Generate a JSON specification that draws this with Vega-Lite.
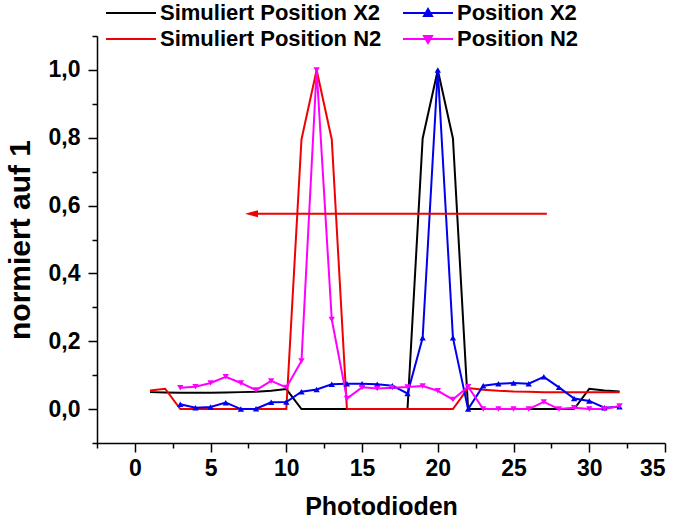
{
  "$schema": "https://vega.github.io/schema/vega-lite/v6.json",
  "width": 568,
  "height": 407,
  "autosize": {"type": "none"},
  "padding": {"left": 97, "top": 36, "right": 15, "bottom": 80},
  "background": "white",
  "config": {
    "view": {"stroke": null},
    "font": "Liberation Sans",
    "axis": {
      "domainColor": "black", "domainWidth": 1.5, "tickColor": "black", "tickWidth": 1.5,
      "labelFont": "Liberation Sans", "labelFontWeight": "bold", "labelColor": "black",
      "titleFont": "Liberation Sans", "titleFontWeight": "bold", "titleColor": "black",
      "grid": false
    }
  },
  "resolve": {"axis": {"x": "independent", "y": "independent"}},
  "layer": [
    {
      "data": {"name": "main"},
      "mark": {"type": "line", "strokeWidth": 2},
      "encoding": {
        "x": {"field": "x", "type": "quantitative", "scale": {"domain": [-2.5, 35], "nice": false, "zero": false},
          "axis": {"orient": "bottom", "title": "Photodioden", "values": [0,5,10,15,20,25,30,35], "tickSize": 9, "labelFontSize": 23, "labelPadding": 5, "titleFontSize": 25, "titlePadding": 14}},
        "y": {"field": "y", "type": "quantitative", "scale": {"domain": [-0.1, 1.1], "nice": false, "zero": false},
          "axis": {"orient": "left", "title": "normiert auf 1", "values": [0,0.2,0.4,0.6,0.8,1.0], "tickSize": 9, "labelFontSize": 23, "labelPadding": 8,
            "labelExpr": "replace(format(datum.value, '.1f'), '.', ',')", "titleFontSize": 30, "titlePadding": 13}},
        "color": {"field": "series", "type": "nominal",
          "scale": {"domain": ["Simuliert Position X2", "Simuliert Position N2", "Position X2", "Position N2"],
                    "range": ["#000000", "#f00000", "#0000ee", "#ff00ff"]},
          "legend": {
            "orient": "none", "legendX": 4, "legendY": -34, "columns": 2, "columnPadding": 16, "rowPadding": 4, "title": null,
            "symbolSize": 100, "symbolStrokeWidth": 2, "symbolOffset": 19, "labelOffset": 18,
            "labelFont": "Liberation Sans", "labelFontSize": 22, "labelFontWeight": "bold", "labelColor": "black", "labelLimit": 400,
            "encode": {"symbols": {"update": {
              "shape": {"signal": "datum.value == 'Position X2' ? 'M-5,0H5M-0.8,0.6L0,-0.8L0.8,0.6Z' : datum.value == 'Position N2' ? 'M-5,0H5M-0.8,-0.6L0,0.8L0.8,-0.6Z' : 'M-5,0H5'"},
              "fill": {"scale": "color", "field": "value"},
              "stroke": {"scale": "color", "field": "value"},
              "strokeWidth": {"value": 2}
            }}}
          }},
        "detail": {"field": "series"}
      }
    },
    {
      "data": {"name": "main"},
      "transform": [{"filter": "datum.series == 'Position X2' || datum.series == 'Position N2'"}],
      "mark": {"type": "point", "filled": true, "size": 40, "opacity": 1},
      "encoding": {
        "x": {"field": "x", "type": "quantitative", "axis": null},
        "y": {"field": "y", "type": "quantitative", "axis": null},
        "color": {"field": "series", "type": "nominal", "legend": null},
        "shape": {"field": "series", "type": "nominal", "scale": {"domain": ["Position X2", "Position N2"], "range": ["triangle-up", "triangle-down"]}, "legend": null}
      }
    },
    {
      "data": {"values": [{"x": 7.6, "x2": 27.2, "y": 0.576}]},
      "mark": {"type": "rule", "color": "#f00000", "strokeWidth": 2},
      "encoding": {
        "x": {"field": "x", "type": "quantitative", "axis": {"orient": "bottom", "title": null, "values": [-2.5,2.5,7.5,12.5,17.5,22.5,27.5,32.5], "labels": false, "domain": false, "tickSize": 5}},
        "x2": {"field": "x2"},
        "y": {"field": "y", "type": "quantitative", "axis": {"orient": "left", "title": null, "values": [-0.1,0.1,0.3,0.5,0.7,0.9,1.1], "labels": false, "domain": false, "tickSize": 5}}
      }
    },
    {
      "data": {"values": [{"x": 7.27, "y": 0.576}]},
      "mark": {"type": "point", "filled": true, "size": 169, "color": "#f00000", "opacity": 1, "shape": "M0,0L2,-0.55L2,0.55Z", "strokeWidth": 0},
      "encoding": {
        "x": {"field": "x", "type": "quantitative", "axis": null},
        "y": {"field": "y", "type": "quantitative", "axis": null}
      }
    }
  ],
  "datasets": {
    "main": [
      {"series": "Simuliert Position X2", "x": 1, "y": 0.050},
      {"series": "Simuliert Position X2", "x": 2, "y": 0.049},
      {"series": "Simuliert Position X2", "x": 3, "y": 0.048},
      {"series": "Simuliert Position X2", "x": 4, "y": 0.048},
      {"series": "Simuliert Position X2", "x": 5, "y": 0.048},
      {"series": "Simuliert Position X2", "x": 6, "y": 0.049},
      {"series": "Simuliert Position X2", "x": 7, "y": 0.050},
      {"series": "Simuliert Position X2", "x": 8, "y": 0.051},
      {"series": "Simuliert Position X2", "x": 9, "y": 0.054},
      {"series": "Simuliert Position X2", "x": 10, "y": 0.059},
      {"series": "Simuliert Position X2", "x": 11, "y": 0},
      {"series": "Simuliert Position X2", "x": 12, "y": 0},
      {"series": "Simuliert Position X2", "x": 13, "y": 0},
      {"series": "Simuliert Position X2", "x": 14, "y": 0},
      {"series": "Simuliert Position X2", "x": 15, "y": 0},
      {"series": "Simuliert Position X2", "x": 16, "y": 0},
      {"series": "Simuliert Position X2", "x": 17, "y": 0},
      {"series": "Simuliert Position X2", "x": 18, "y": 0},
      {"series": "Simuliert Position X2", "x": 19, "y": 0.798},
      {"series": "Simuliert Position X2", "x": 20, "y": 1.0},
      {"series": "Simuliert Position X2", "x": 21, "y": 0.798},
      {"series": "Simuliert Position X2", "x": 22, "y": 0},
      {"series": "Simuliert Position X2", "x": 23, "y": 0},
      {"series": "Simuliert Position X2", "x": 24, "y": 0},
      {"series": "Simuliert Position X2", "x": 25, "y": 0},
      {"series": "Simuliert Position X2", "x": 26, "y": 0},
      {"series": "Simuliert Position X2", "x": 27, "y": 0},
      {"series": "Simuliert Position X2", "x": 28, "y": 0},
      {"series": "Simuliert Position X2", "x": 29, "y": 0},
      {"series": "Simuliert Position X2", "x": 30, "y": 0.060},
      {"series": "Simuliert Position X2", "x": 31, "y": 0.055},
      {"series": "Simuliert Position X2", "x": 32, "y": 0.052},
      {"series": "Simuliert Position N2", "x": 1, "y": 0.055},
      {"series": "Simuliert Position N2", "x": 2, "y": 0.060},
      {"series": "Simuliert Position N2", "x": 3, "y": 0},
      {"series": "Simuliert Position N2", "x": 4, "y": 0},
      {"series": "Simuliert Position N2", "x": 5, "y": 0},
      {"series": "Simuliert Position N2", "x": 6, "y": 0},
      {"series": "Simuliert Position N2", "x": 7, "y": 0},
      {"series": "Simuliert Position N2", "x": 8, "y": 0},
      {"series": "Simuliert Position N2", "x": 9, "y": 0},
      {"series": "Simuliert Position N2", "x": 10, "y": 0},
      {"series": "Simuliert Position N2", "x": 11, "y": 0.795},
      {"series": "Simuliert Position N2", "x": 12, "y": 1.0},
      {"series": "Simuliert Position N2", "x": 13, "y": 0.795},
      {"series": "Simuliert Position N2", "x": 14, "y": 0},
      {"series": "Simuliert Position N2", "x": 15, "y": 0},
      {"series": "Simuliert Position N2", "x": 16, "y": 0},
      {"series": "Simuliert Position N2", "x": 17, "y": 0},
      {"series": "Simuliert Position N2", "x": 18, "y": 0},
      {"series": "Simuliert Position N2", "x": 19, "y": 0},
      {"series": "Simuliert Position N2", "x": 20, "y": 0},
      {"series": "Simuliert Position N2", "x": 21, "y": 0},
      {"series": "Simuliert Position N2", "x": 22, "y": 0.062},
      {"series": "Simuliert Position N2", "x": 23, "y": 0.057},
      {"series": "Simuliert Position N2", "x": 24, "y": 0.054},
      {"series": "Simuliert Position N2", "x": 25, "y": 0.052},
      {"series": "Simuliert Position N2", "x": 26, "y": 0.051},
      {"series": "Simuliert Position N2", "x": 27, "y": 0.050},
      {"series": "Simuliert Position N2", "x": 28, "y": 0.050},
      {"series": "Simuliert Position N2", "x": 29, "y": 0.050},
      {"series": "Simuliert Position N2", "x": 30, "y": 0.050},
      {"series": "Simuliert Position N2", "x": 31, "y": 0.050},
      {"series": "Simuliert Position N2", "x": 32, "y": 0.050},
      {"series": "Position X2", "x": 3, "y": 0.014},
      {"series": "Position X2", "x": 4, "y": 0.004},
      {"series": "Position X2", "x": 5, "y": 0.006},
      {"series": "Position X2", "x": 6, "y": 0.019},
      {"series": "Position X2", "x": 7, "y": 0.0},
      {"series": "Position X2", "x": 8, "y": 0.001},
      {"series": "Position X2", "x": 9, "y": 0.020},
      {"series": "Position X2", "x": 10, "y": 0.021},
      {"series": "Position X2", "x": 11, "y": 0.051},
      {"series": "Position X2", "x": 12, "y": 0.058},
      {"series": "Position X2", "x": 13, "y": 0.073},
      {"series": "Position X2", "x": 14, "y": 0.075},
      {"series": "Position X2", "x": 15, "y": 0.075},
      {"series": "Position X2", "x": 16, "y": 0.073},
      {"series": "Position X2", "x": 17, "y": 0.069},
      {"series": "Position X2", "x": 18, "y": 0.046},
      {"series": "Position X2", "x": 19, "y": 0.210},
      {"series": "Position X2", "x": 20, "y": 1.0},
      {"series": "Position X2", "x": 21, "y": 0.210},
      {"series": "Position X2", "x": 22, "y": 0.0},
      {"series": "Position X2", "x": 23, "y": 0.069},
      {"series": "Position X2", "x": 24, "y": 0.075},
      {"series": "Position X2", "x": 25, "y": 0.077},
      {"series": "Position X2", "x": 26, "y": 0.075},
      {"series": "Position X2", "x": 27, "y": 0.095},
      {"series": "Position X2", "x": 28, "y": 0.064},
      {"series": "Position X2", "x": 29, "y": 0.031},
      {"series": "Position X2", "x": 30, "y": 0.024},
      {"series": "Position X2", "x": 31, "y": 0.004},
      {"series": "Position X2", "x": 32, "y": 0.007},
      {"series": "Position N2", "x": 3, "y": 0.063},
      {"series": "Position N2", "x": 4, "y": 0.066},
      {"series": "Position N2", "x": 5, "y": 0.077},
      {"series": "Position N2", "x": 6, "y": 0.095},
      {"series": "Position N2", "x": 7, "y": 0.077},
      {"series": "Position N2", "x": 8, "y": 0.056},
      {"series": "Position N2", "x": 9, "y": 0.083},
      {"series": "Position N2", "x": 10, "y": 0.064},
      {"series": "Position N2", "x": 11, "y": 0.142},
      {"series": "Position N2", "x": 12, "y": 1.0},
      {"series": "Position N2", "x": 13, "y": 0.264},
      {"series": "Position N2", "x": 14, "y": 0.031},
      {"series": "Position N2", "x": 15, "y": 0.064},
      {"series": "Position N2", "x": 16, "y": 0.061},
      {"series": "Position N2", "x": 17, "y": 0.063},
      {"series": "Position N2", "x": 18, "y": 0.065},
      {"series": "Position N2", "x": 19, "y": 0.068},
      {"series": "Position N2", "x": 20, "y": 0.054},
      {"series": "Position N2", "x": 21, "y": 0.028},
      {"series": "Position N2", "x": 22, "y": 0.066},
      {"series": "Position N2", "x": 23, "y": 0.0},
      {"series": "Position N2", "x": 24, "y": 0.0},
      {"series": "Position N2", "x": 25, "y": 0.0},
      {"series": "Position N2", "x": 26, "y": 0.0},
      {"series": "Position N2", "x": 27, "y": 0.021},
      {"series": "Position N2", "x": 28, "y": 0.0},
      {"series": "Position N2", "x": 29, "y": 0.004},
      {"series": "Position N2", "x": 30, "y": 0.0},
      {"series": "Position N2", "x": 31, "y": 0.0},
      {"series": "Position N2", "x": 32, "y": 0.009}
    ]
  }
}
